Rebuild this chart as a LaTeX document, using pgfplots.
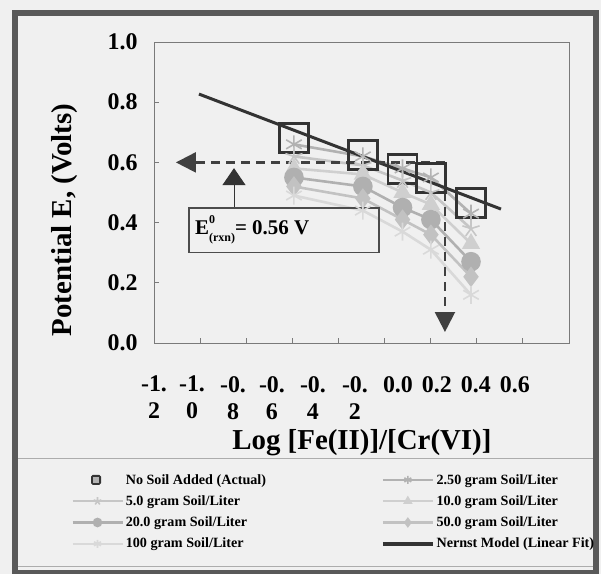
\documentclass[border=0pt]{standalone}
\usepackage{fontspec}
\setmainfont{Liberation Serif}
\usepackage{pgfplots}
\pgfplotsset{compat=1.18}
\usetikzlibrary{arrows.meta}
\definecolor{bgc}{HTML}{F0F0F0}
\definecolor{framec}{HTML}{595959}
\definecolor{axc}{HTML}{7A7A7A}
\definecolor{dk}{HTML}{333333}
\begin{document}
\begin{tikzpicture}
\useasboundingbox (0bp,0bp) rectangle (601bp,-574bp);
\fill[bgc] (0bp,0bp) rectangle (601bp,-574bp);
\draw[line width=6bp, framec] (15bp,-13bp) rectangle (596bp,-573bp);
\draw[line width=1bp, gray!65] (18bp,-458bp) -- (593bp,-458bp);
\draw[line width=1bp, gray!65] (18bp,-566bp) -- (593bp,-566bp);
\begin{axis}[
  at={(154bp,-343bp)}, anchor=south west,
  width=415bp, height=301bp, scale only axis,
  xmin=-1.2, xmax=0.6, ymin=0, ymax=1,
  axis line style={draw=axc, line width=0.9bp},
  tick align=inside, xtick pos=bottom, ytick pos=left,
  major tick length=5bp, minor tick length=5bp,
  tick style={draw=axc, line width=0.9bp},
  /pgf/number format/assume math mode=true,
  ytick={0,0.2,0.4,0.6,0.8,1},
  yticklabel style={/pgf/number format/.cd, fixed, fixed zerofill, precision=1, /tikz/.cd,
    font=\bfseries\fontsize{24}{28}\selectfont, xshift=-13bp},
  xtick={-1.2,-1.0352,-0.8574,-0.6883,-0.5105,-0.3284,-0.1419,0.0272,0.1963,0.3654},
  xticklabels={{-1.\\2},{-1.\\0},{-0.\\8},{-0.\\6},{-0.\\4},{-0.\\2},0.0,0.2,0.4,0.6},
  xticklabel style={align=center, inner sep=0pt, font=\bfseries\fontsize{24}{27}\selectfont, yshift=-33bp},
  every major x tick/.append style={draw=none},
  minor xtick={-1,-0.8,-0.6,-0.4,-0.2,0,0.2,0.4},
  xlabel={Log [Fe(II)]/[Cr(VI)]},
  ylabel={Potential E, (Volts)},
  xlabel style={at={(axis description cs:0.501,-0.332)}, anchor=center, inner sep=0pt, font=\bfseries\fontsize{29}{33}\selectfont},
  ylabel style={at={(axis description cs:-0.2145,0.409)}, anchor=center, rotate=0, font=\bfseries\fontsize{29}{33}\selectfont},
  legend columns=2,
  legend cell align=left,
  legend style={at={(axis description cs:-0.2,-0.4286)}, anchor=north west,
    draw=none, fill=none, inner sep=0pt,
    font=\bfseries\fontsize{14.2}{16}\selectfont,
    row sep=6bp,
    /tikz/every even column/.append style={column sep=113bp},
    nodes={inner sep=2bp}},
  legend image code/.code={\draw[mark repeat=2,mark phase=2,#1] plot coordinates {(0bp,0bp) (25bp,0bp) (50bp,0bp)};},
  legend image post style={mark size=4bp},
  soil/.style={line width=2.6bp, mark size=9bp, mark options={solid, line width=1.6bp}},
]
% No soil added (actual)
\addplot[only marks, mark=square, mark size=14.5bp, draw=dk, line width=2.5bp,
  legend image code/.code={\draw[fill=dk, draw=dk, line width=1bp, rounded corners=1.5bp] (19bp,-4.5bp) rectangle (28bp,4.5bp); \fill[gray!60] (22bp,-1.5bp) rectangle (25bp,1.5bp);}]
  coordinates {(-0.593,0.681) (-0.294,0.625) (-0.122,0.578) (0.001,0.548) (0.175,0.465)};
\addlegendentry{No Soil Added (Actual)}
\addplot[soil, color=gray!60, mark=asterisk]
  coordinates {(-0.593,0.66) (-0.294,0.62) (-0.122,0.58) (0.001,0.55) (0.175,0.43)};
\addlegendentry{2.50 gram Soil/Liter}
\addplot[soil, color=gray!45, mark=star]
  coordinates {(-0.593,0.62) (-0.294,0.59) (-0.122,0.54) (0.001,0.50) (0.175,0.38)};
\addlegendentry{5.0 gram Soil/Liter}
\addplot[soil, color=gray!38, mark=triangle*]
  coordinates {(-0.593,0.58) (-0.294,0.56) (-0.122,0.50) (0.001,0.46) (0.175,0.33)};
\addlegendentry{10.0 gram Soil/Liter}
\addplot[soil, color=gray!62, mark=*]
  coordinates {(-0.593,0.55) (-0.294,0.52) (-0.122,0.45) (0.001,0.41) (0.175,0.27)};
\addlegendentry{20.0 gram Soil/Liter}
\addplot[soil, color=gray!48, mark=diamond*]
  coordinates {(-0.593,0.52) (-0.294,0.48) (-0.122,0.41) (0.001,0.36) (0.175,0.22)};
\addlegendentry{50.0 gram Soil/Liter}
\addplot[soil, color=gray!30, mark=asterisk]
  coordinates {(-0.593,0.49) (-0.294,0.44) (-0.122,0.37) (0.001,0.31) (0.175,0.16)};
\addlegendentry{100 gram Soil/Liter}
\addplot[dk, line width=3bp, no marks,
  legend image code/.code={\draw[dk, line width=3.5bp] (0bp,0bp) -- (50bp,0bp);}]
  coordinates {(-1.005,0.827) (0.305,0.445)};
\addlegendentry{Nernst Model (Linear Fit)}
% annotations
\draw[black!75, line width=2.2bp, dash pattern=on 9bp off 6bp, -{Triangle[length=20bp,width=20bp]}]
  (axis cs:0.062,0.6) -- (axis cs:-1.105,0.6);
\draw[black!75, line width=2.2bp, dash pattern=on 9bp off 6bp, -{Triangle[length=20bp,width=20bp]}]
  (axis cs:0.062,0.6) -- (axis cs:0.062,0.0365);
\draw[gray!40!black, line width=1bp, -{Triangle[length=17bp,width=23bp]}]
  (axis cs:-0.853,0.4485) -- (axis cs:-0.853,0.581);
\draw[gray!60!black, line width=1.2bp] (axis cs:-1.048,0.4485) rectangle (axis cs:-0.2243,0.302);
\node[anchor=west, font=\bfseries\fontsize{21}{24}\selectfont, inner sep=0pt] at (axis cs:-1.022,0.375)
  {E\rlap{\raisebox{0.5em}{\fontsize{12}{12}\selectfont 0}}\raisebox{-0.35em}{\fontsize{12}{12}\selectfont (rxn)}= 0.56 V};
\end{axis}
\end{tikzpicture}
\end{document}
